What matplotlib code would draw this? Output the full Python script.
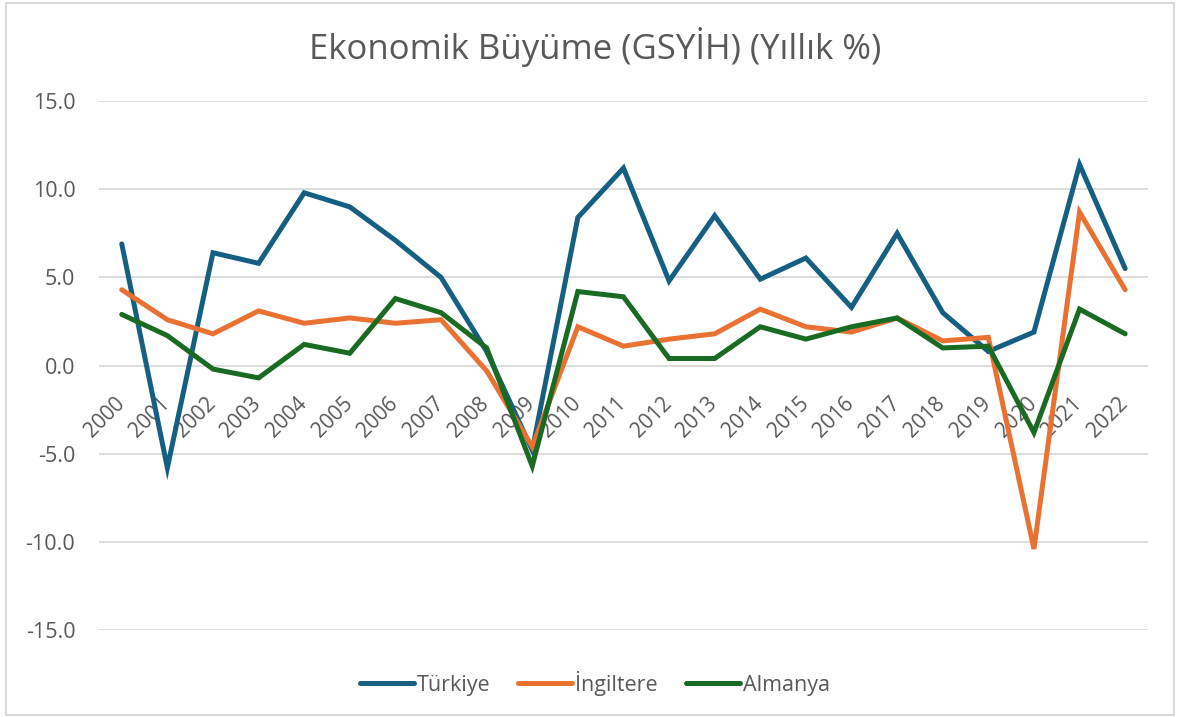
import numpy as np
import matplotlib
matplotlib.use("Agg")
import matplotlib.pyplot as plt
from matplotlib.ticker import FuncFormatter
from matplotlib.patches import Rectangle
from matplotlib.transforms import ScaledTranslation

# veriler (grafikten okunan yillik buyume %)
yillar = list(range(2000, 2023))
turkiye = [6.9, -5.8, 6.4, 5.8, 9.8, 9.0, 7.1, 5.0, 0.8, -4.8, 8.4, 11.2, 4.8, 8.5, 4.9, 6.1, 3.3, 7.5, 3.0, 0.8, 1.9, 11.4, 5.5]
ingiltere = [4.3, 2.6, 1.8, 3.1, 2.4, 2.7, 2.4, 2.6, -0.3, -4.6, 2.2, 1.1, 1.5, 1.8, 3.2, 2.2, 1.9, 2.7, 1.4, 1.6, -10.4, 8.7, 4.3]
almanya = [2.9, 1.7, -0.2, -0.7, 1.2, 0.7, 3.8, 3.0, 1.0, -5.7, 4.2, 3.9, 0.4, 0.4, 2.2, 1.5, 2.2, 2.7, 1.0, 1.1, -3.8, 3.2, 1.8]

seriler = [("Türkiye", turkiye, "#156082"),
           ("İngiltere", ingiltere, "#E97132"),
           ("Almanya", almanya, "#196B24")]

plt.rcParams['font.family'] = ['Open Sans', 'DejaVu Sans']
gri = "#595959"

fig = plt.figure(figsize=(11.78, 7.17), dpi=100)
ax = fig.add_axes([0.084, 0.1213, 0.8905, 0.7377])

x = np.arange(len(yillar))
for ad, deger, renk in seriler:
    ax.plot(x, deger, color=renk, lw=3.6, label=ad, zorder=3, solid_capstyle='round', solid_joinstyle='miter')

ax.set_xlim(-0.5, len(yillar) - 0.5)
ax.set_ylim(-15, 15)
ax.set_yticks(np.arange(-15, 16, 5))
ax.yaxis.set_major_formatter(FuncFormatter(lambda v, p: f"{v:.1f}"))
ax.grid(axis='y', color="#D9D9D9", lw=1.3)
ax.set_axisbelow(True)

# x ekseni sifir cizgisinde
ax.spines['bottom'].set_position(('data', 0))
for s in ax.spines.values():
    s.set_visible(False)
ax.set_xticks(x)
ax.set_xticklabels([str(y) for y in yillar], rotation=45, ha='right', va='top')
ax.tick_params(axis='x', length=0, pad=20, labelsize=15, labelcolor=gri)
ax.tick_params(axis='y', length=0, pad=17, labelsize=15.5, labelcolor=gri)
kaydir = ScaledTranslation(5 / 72, 0, fig.dpi_scale_trans)
for lbl in ax.get_xticklabels():
    lbl.set_transform(lbl.get_transform() + kaydir)

fig.text(0.505, 0.934, "Ekonomik Büyüme (GSYİH) (Yıllık %)", ha='center', va='center', fontsize=25, color=gri)

fig.legend(loc='center', bbox_to_anchor=(0.505, 0.047), ncol=3, frameon=False,
           fontsize=15.5, labelcolor=gri, handlelength=2.5, handletextpad=0.15, columnspacing=1.3)

# grafik cercevesi
fig.patches.append(Rectangle((0.005, 0.003), 0.992, 0.993, transform=fig.transFigure,
                             fill=False, edgecolor="#D9D9D9", lw=1.5))

plt.savefig("out.png", dpi=100)
